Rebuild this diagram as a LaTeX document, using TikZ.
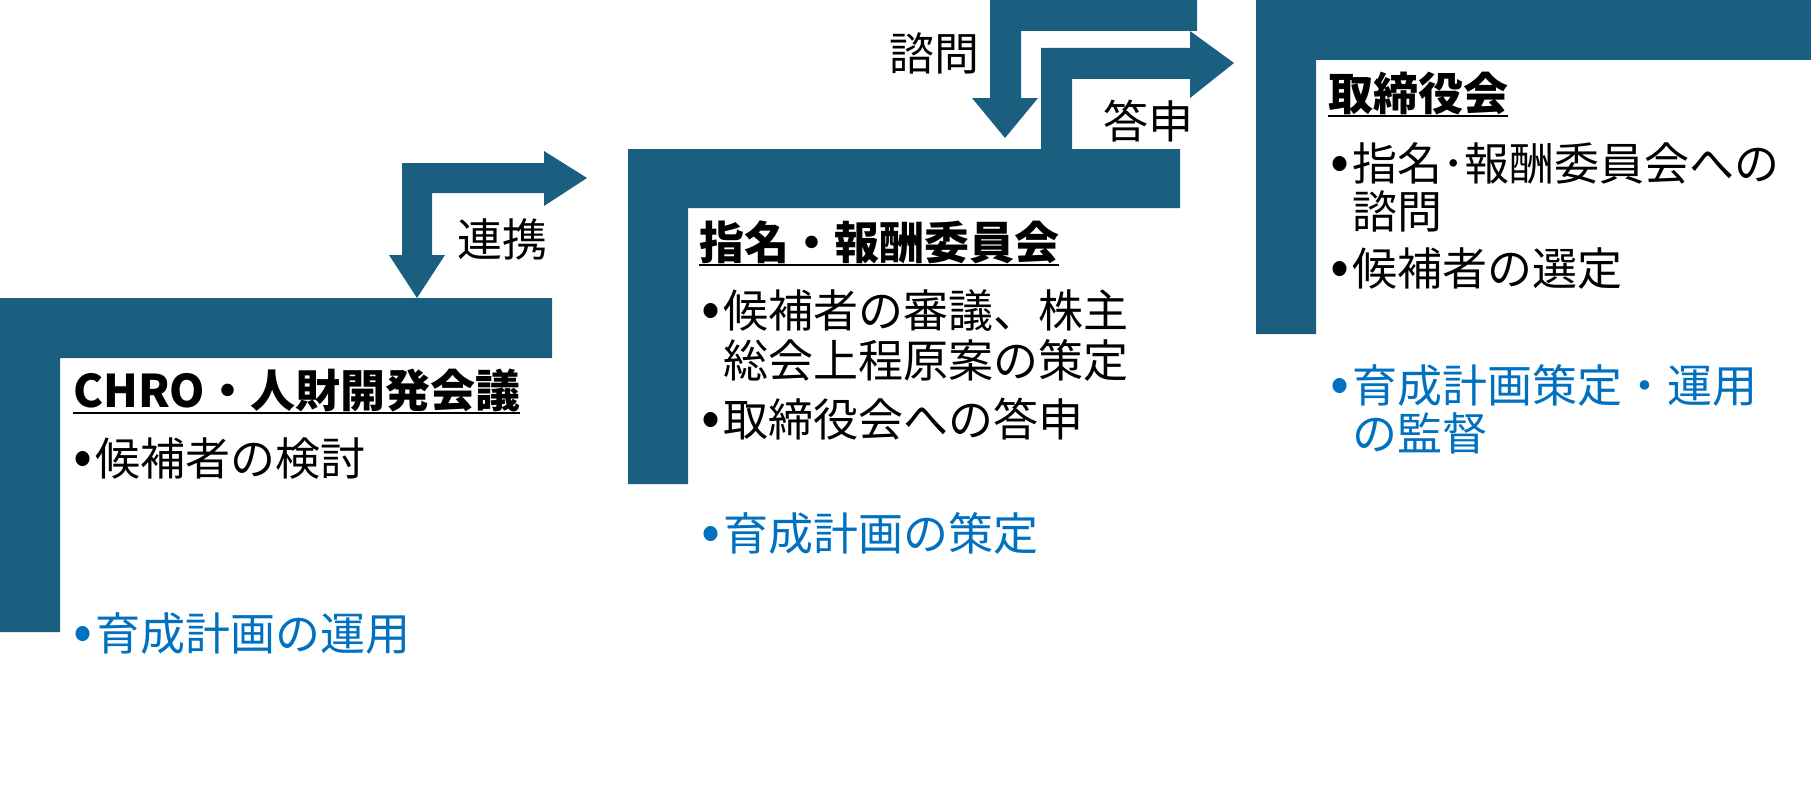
\documentclass[tikz,border=0pt]{standalone}
\usepackage{fontspec}
\setmainfont{Noto Sans CJK JP}
\definecolor{stepblue}{RGB}{26,95,128}
\definecolor{planblue}{RGB}{0,112,192}
\newcommand{\itemdot}{\makebox[22bp][l]{\fontsize{56bp}{49bp}\selectfont•}}

\begin{document}
\begin{tikzpicture}[x=1bp,y=-1bp,
    txt/.style={anchor=base west,inner sep=0pt,font=\fontsize{45bp}{49bp}\selectfont},
    head/.style={txt,font=\fontsize{45bp}{49bp}\selectfont\bfseries},
    plan/.style={txt,text=planblue},
    lbl/.style={inner sep=0pt,font=\fontsize{45bp}{49bp}\selectfont},
    uline/.style={line width=2.5bp}]
  \useasboundingbox (0,0) rectangle (1811,787);
  \begin{scope}[fill=stepblue]
    \fill (0,298) -- (552,298) -- (552,358) -- (60,358) -- (60,632) -- (0,632) -- cycle;
    \fill (628,149) -- (1180,149) -- (1180,208) -- (688,208) -- (688,484) -- (628,484) -- cycle;
    \fill (1256,0) -- (1811,0) -- (1811,60) -- (1316,60) -- (1316,334) -- (1256,334) -- cycle;
    \fill (417,298) -- (445,255) -- (432,255) -- (432,193) -- (544,193) -- (544,206)
      -- (587,178) -- (544,151) -- (544,163) -- (402,163) -- (402,255) -- (389,255) -- cycle;
    \fill (1005,138) -- (1038,98) -- (1021,98) -- (1021,31) -- (1197,31) -- (1197,0)
      -- (990,0) -- (990,98) -- (972,98) -- cycle;
    \fill (1041,149) -- (1041,48) -- (1190,48) -- (1190,31) -- (1234,63) -- (1190,98)
      -- (1190,79) -- (1072,79) -- (1072,149) -- cycle;
  \end{scope}
  \node[lbl] (link) at (502,239) {連携};
  \node[lbl] (consult) at (934,53) {諮問};
  \node[lbl] (answer) at (1148,121) {答申};
  \node[head] (chro) at (73,407) {CHRO・人財開発会議};
  \node[txt] (chro1) at (73,475) {\itemdot 候補者の検討};
  \node[plan] (chroplan) at (73,650) {\itemdot 育成計画の運用};
  \node[head] (nom) at (699,259) {指名・報酬委員会};
  \node[txt] (nom1) at (701,327) {\itemdot 候補者の審議、株主};
  \node[txt] (nom1b) at (701,377) {\hphantom{\itemdot}総会上程原案の策定};
  \node[txt] (nom2) at (701,436) {\itemdot 取締役会への答申};
  \node[plan] (nomplan) at (701,550) {\itemdot 育成計画の策定};
  \node[head] (board) at (1328,110) {取締役会};
  \node[txt] (board1) at (1330,180) {\itemdot 指名･報酬委員会への};
  \node[txt] (board1b) at (1330,228) {\hphantom{\itemdot}諮問};
  \node[txt] (board2) at (1330,285) {\itemdot 候補者の選定};
  \node[plan] (boardplan) at (1330,402) {\itemdot 育成計画策定・運用};
  \node[plan] (boardplanb) at (1330,450) {\hphantom{\itemdot}の監督};
  \draw[uline] ([yshift=-6bp]chro.base west) -- ([yshift=-6bp]chro.base east);
  \draw[uline] ([yshift=-6bp]nom.base west) -- ([yshift=-6bp]nom.base east);
  \draw[uline] ([yshift=-6bp]board.base west) -- ([yshift=-6bp]board.base east);
\end{tikzpicture}
\end{document}
